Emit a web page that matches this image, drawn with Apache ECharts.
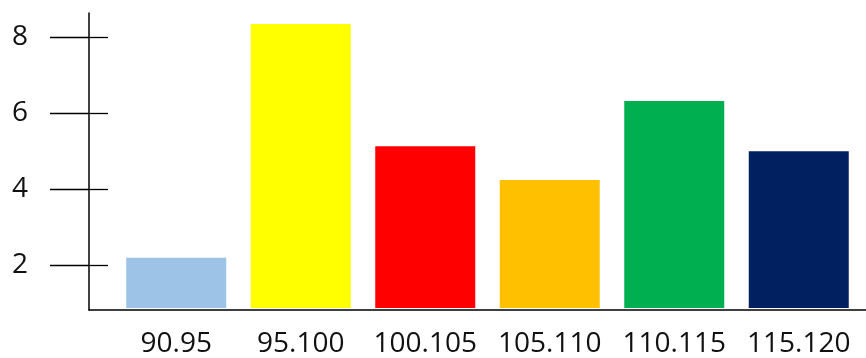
<!DOCTYPE html>
<html>
<head>
<meta charset="utf-8">
<script src="https://cdn.jsdelivr.net/npm/echarts@6/dist/echarts.min.js"></script>
<style>
  html, body { margin: 0; padding: 0; background: #fff; }
  #chart { width: 866px; height: 358px; }
</style>
</head>
<body>
<div id="chart"></div>
<script>
// data
const categories = ['90.95', '95.100', '100.105', '105.110', '110.115', '115.120'];
const values = [2.15, 8.34, 5.1, 4.21, 6.3, 4.97];
const barColors = ['#9DC3E6', '#FFFF00', '#FF0000', '#FFC000', '#00B050', '#002060'];
const yTicks = [2, 4, 6, 8];

const yMin = 0.816, yMax = 8.632;
const font = 'Open Sans';

function gen_data(vals) {
  var ret = [];
  for (var i in vals) {
    ret.push({ value: vals[i], itemStyle: { color: barColors[i] } });
  }
  return ret
}

const chart = echarts.init(document.getElementById('chart'));
chart.setOption({
  animation: false,
  grid: [
    { left: 89, right: 0, top: 13, bottom: 48 },   // axis frame
    { left: 114, right: 5, top: 13, bottom: 48 }   // bars
  ],
  xAxis: [
    {
      gridIndex: 0, type: 'value', min: 0, max: 1,
      axisLine: { show: true, onZero: false, lineStyle: { color: '#000', width: 1.5 } },
      axisTick: { show: false }, axisLabel: { show: false }, splitLine: { show: false }
    },
    {
      gridIndex: 1, type: 'category', data: categories,
      axisLine: { show: false }, axisTick: { show: false },
      axisLabel: { interval: 0, hideOverlap: false, margin: 22, fontSize: 28, fontFamily: font, color: '#111' }
    }
  ],
  yAxis: [
    {
      gridIndex: 0, type: 'value', position: 'left', min: yMin, max: yMax,
      axisLine: { show: true, lineStyle: { color: '#000', width: 1.5 } },
      axisTick: { show: true, inside: false, length: 39, customValues: yTicks,
                  lineStyle: { color: '#000', width: 1.3 } },
      axisLabel: { customValues: yTicks, margin: 61, fontSize: 28, fontFamily: font, color: '#111' },
      splitLine: { show: false }
    },
    {
      // inner half of the crossing ticks
      gridIndex: 0, type: 'value', position: 'left', offset: 0, min: yMin, max: yMax,
      axisLine: { show: false },
      axisTick: { show: true, inside: true, length: 19, customValues: yTicks,
                  lineStyle: { color: '#000', width: 1.3 } },
      axisLabel: { show: false }, splitLine: { show: false }
    },
    { gridIndex: 1, type: 'value', min: yMin, max: yMax, show: false }
  ],
  series: [{
    type: 'bar',
    xAxisIndex: 1,
    yAxisIndex: 2,
    barWidth: 100,
    data: gen_data(values)
  }]
});
</script>
</body>
</html>
